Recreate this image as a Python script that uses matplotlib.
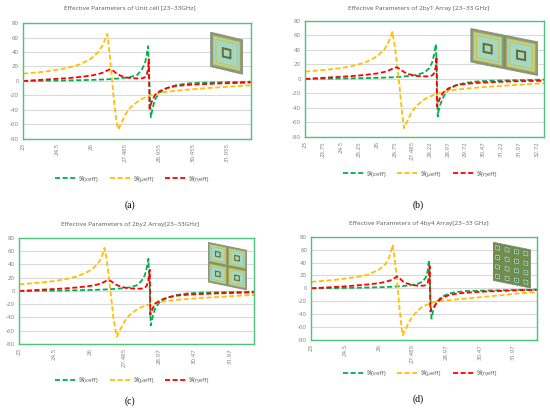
import numpy as np
import matplotlib
matplotlib.use('Agg')
import matplotlib.pyplot as plt
from matplotlib.patches import Rectangle
from matplotlib.transforms import Affine2D

plt.rcParams['font.family'] = ['Open Sans', 'DejaVu Sans']
plt.rcParams['axes.unicode_minus'] = False

# ---------------- data (GHz vs value) ----------------
freq_a = [23.0, 23.5, 24.0, 24.5, 25.0, 25.5, 26.0, 26.3, 26.5, 26.6, 26.7, 26.8, 26.9, 27.0,
          27.1, 27.18, 27.3, 27.5, 27.7, 28.0, 28.2, 28.35, 28.43, 28.49, 28.52, 28.55, 28.58,
          28.61, 28.7, 28.8, 29.0, 29.3, 29.7, 30.2, 30.8, 31.5, 32.2, 33.0]
eps_a = [0, 0.2, 0.4, 0.6, 0.8, 1.1, 1.5, 1.8, 2, 2.2, 2.3, 2.5, 2.7, 3,
         3.2, 3.4, 3.8, 4.5, 5.5, 8, 15, 24, 36, 48, 25, -5, -30,
         -50, -36, -25, -16, -10, -6, -3.5, -2.5, -2, -1.5, -1]
mu_a = [10, 11.5, 13, 15.5, 18.5, 23, 31, 40, 50, 57, 65, 38, 3, -30,
        -56, -67, -59, -46, -37, -29, -25, -23, -22, -21.5, -21, -20.5, -20,
        -20, -19, -18, -16.5, -15, -13.5, -12, -10.5, -9, -7.5, -6]
eta_a = [0, 1, 2, 3, 4, 5.5, 7.5, 9.5, 11.5, 13, 14.5, 16, 15.5, 13,
         10.5, 9, 7, 5, 4, 3.5, 3.5, 5, 8, 17, 30, -38, -36,
         -32, -25, -19, -14, -10, -7, -5.5, -4.5, -3.5, -3, -2]

freq_b = [23.0, 23.5, 24.0, 24.5, 25.0, 25.5, 26.0, 26.3, 26.45, 26.55, 26.65, 26.75, 26.83, 26.95,
          27.05, 27.14, 27.25, 27.45, 27.7, 28.0, 28.2, 28.32, 28.4, 28.47, 28.5, 28.52, 28.55,
          28.58, 28.66, 28.8, 29.0, 29.3, 29.7, 30.2, 30.8, 31.5, 32.2, 33.0]
eps_b = [0, 0.2, 0.4, 0.6, 0.8, 1.1, 1.5, 1.8, 2, 2.1, 2.2, 2.4, 2.6, 2.9,
         3.2, 3.4, 3.8, 4.5, 5.8, 9, 15, 23, 34, 48, 20, 0, -52,
         -45, -35, -24, -15, -9, -5.5, -3.5, -2.5, -2, -1.5, -1]
mu_b = [10, 11.5, 13, 15, 18, 22.5, 31, 40, 48, 56, 65, 45, 25, -10,
        -45, -68, -60, -46, -36, -28, -24.5, -23, -22, -21.5, -21, -21, -20.5,
        -20, -19.5, -18, -16.5, -15, -13.5, -12, -10.5, -9, -7.5, -6]
eta_b = [0, 1, 2, 3, 4, 5.5, 7.5, 9.5, 11, 12.5, 14, 15.5, 16, 14,
         11.5, 9.5, 7.5, 5.5, 4, 3.5, 3.5, 5, 8, 17, 31, -38, -35,
         -32, -25, -18, -13, -9, -7, -5.5, -4.5, -3.5, -3, -2.5]

freq_c = [23.0, 23.5, 24.0, 24.5, 25.0, 25.5, 26.0, 26.3, 26.45, 26.55, 26.63, 26.72, 26.8, 26.9,
          27.0, 27.15, 27.3, 27.5, 27.7, 28.0, 28.2, 28.35, 28.43, 28.5, 28.53, 28.56, 28.58,
          28.6, 28.7, 28.8, 29.0, 29.3, 29.7, 30.2, 30.8, 31.5, 32.2, 33.0]
eps_c = [0, 0.2, 0.4, 0.6, 0.8, 1.1, 1.5, 1.8, 2, 2.1, 2.2, 2.4, 2.6, 2.8,
         3, 3.4, 3.8, 4.5, 5.5, 8.5, 15, 24, 35, 48.5, 25, 0, -30,
         -52, -36, -25, -16, -10, -6, -3.5, -2.5, -2, -1.5, -1]
mu_c = [10, 11.5, 13, 15, 18, 22.5, 30.5, 39, 47, 55, 65, 48, 25, -5,
        -38, -69, -58, -45, -36, -28, -24.5, -22.5, -21.5, -21, -20.5, -20, -20,
        -19.5, -19, -18, -16.5, -15, -13.5, -12, -10.5, -9, -7.5, -6]
eta_c = [0, 1, 2, 3, 4, 5.5, 7.5, 9.5, 11, 12.5, 14, 15.5, 16, 15,
         12.5, 9, 7, 5, 4, 3.5, 3.5, 5, 8, 17, 25, 32, -36,
         -33, -25, -19, -14, -10, -7, -5.5, -4.5, -3.5, -3, -2]

freq_d = [23.0, 23.5, 24.0, 24.5, 25.0, 25.5, 26.0, 26.3, 26.43, 26.52, 26.61, 26.7, 26.8, 26.88,
          26.96, 27.05, 27.2, 27.4, 27.6, 27.8, 27.95, 28.08, 28.16, 28.22, 28.25, 28.28, 28.3,
          28.33, 28.42, 28.55, 28.75, 29.1, 29.5, 30.0, 30.7, 31.5, 32.2, 33.0]
eps_d = [0, 0.2, 0.4, 0.6, 0.9, 1.2, 1.6, 2, 2.2, 2.3, 2.5, 2.7, 2.9, 3.1,
         3.3, 3.5, 4, 4.8, 6, 8, 11, 17, 27, 44, 20, -10, -30,
         -47, -32, -22, -14, -8, -5.5, -4, -3.5, -3, -2.5, -2]
mu_d = [10, 11.5, 13, 15, 17.5, 21, 29, 38, 46, 55, 67.5, 45, 15, -20,
        -48, -73, -62, -48, -39, -32, -28, -26, -25, -24.5, -24, -23.5, -23,
        -22.5, -21.5, -20.5, -19.5, -18.5, -17, -15.5, -13, -10.5, -8, -6]
eta_d = [0, 1, 2, 3, 4.5, 6, 8, 10, 11.5, 12.5, 14, 16, 18.5, 17,
         14, 11, 8, 6, 4.5, 4, 4, 5, 8, 18, 34, -36, -35,
         -32, -30, -23, -16, -10.5, -8, -6.5, -5, -4, -3, -2.5]

ticks_a = ['23', '24.5', '26', '27.485', '28.955', '30.455', '31.955']
ticks_b = ['23', '23.75', '24.5', '25.25', '26', '26.75', '27.485', '28.22', '28.97',
           '29.72', '30.47', '31.22', '31.97', '32.72']
ticks_c = ['23', '24.5', '26', '27.485', '28.97', '30.47', '31.97']
ticks_d = ['23', '24.5', '26', '27.485', '28.97', '30.47', '31.97']

titles = ['Effective Parameters of Unit cell [23~33GHz]',
          'Effective Parameters of 2by1 Array [23~33 GHz]',
          'Effective Parameters of 2by2 Array[23~33GHz]',
          'Effective Parameters of 4by4 Array[23~33 GHz]']
tags = ['(a)', '(b)', '(c)', '(d)']
series_names = ['ℜ(εeff)', 'ℜ(μeff)', 'ℜ(ηeff)']
series_colors = ['#00B050', '#FFC000', '#FF0000']

panels = [(freq_a, eps_a, mu_a, eta_a, ticks_a),
          (freq_b, eps_b, mu_b, eta_b, ticks_b),
          (freq_c, eps_c, mu_c, eta_c, ticks_c),
          (freq_d, eps_d, mu_d, eta_d, ticks_d)]

# layout (figure fractions)
ax_rects = [[0.042, 0.662, 0.414, 0.282],
            [0.555, 0.667, 0.434, 0.282],
            [0.035, 0.163, 0.427, 0.258],
            [0.566, 0.173, 0.410, 0.251]]
title_pos = [(0.236, 0.980), (0.761, 0.980), (0.236, 0.453), (0.761, 0.455)]
legend_pos = [(0.240, 0.565), (0.763, 0.577), (0.240, 0.075), (0.763, 0.092)]
tag_pos = [(0.236, 0.501), (0.760, 0.501), (0.236, 0.024), (0.760, 0.029)]

fig = plt.figure(figsize=(5.5, 4.11), dpi=100)

for k, (fr, e, m, n, tl) in enumerate(panels):
    ax = fig.add_axes(ax_rects[k])
    for vals, name, col in zip([e, m, n], series_names, series_colors):
        ax.plot(fr, vals, color=col, lw=1.3, ls=(0, (2.8, 1.4)), label=name)
    ax.set_xlim(23, 33)
    ax.set_ylim(-80, 80)
    ax.set_yticks(range(-80, 81, 20))
    ax.set_xticks([float(t) for t in tl])
    ax.set_xticklabels(tl, rotation=90)
    ax.tick_params(length=0, labelsize=4.4, colors='#7F7F7F', pad=3)
    ax.grid(axis='y', color='#D9D9D9', lw=0.8)
    ax.set_axisbelow(True)
    for s in ax.spines.values():
        s.set_color('#4CC27E')
        s.set_linewidth(1.0)
    fig.text(title_pos[k][0], title_pos[k][1], titles[k], ha='center', va='center',
             fontsize=4.6, color='#595959')
    ax.legend(loc='center', bbox_to_anchor=legend_pos[k], bbox_transform=fig.transFigure,
              ncol=3, frameon=False, fontsize=4.5, handlelength=3.4, handletextpad=0.4,
              columnspacing=1.8, labelcolor='#595959')
    fig.text(tag_pos[k][0], tag_pos[k][1], tags[k], ha='center', va='center',
             fontsize=7, family=['Liberation Serif', 'DejaVu Serif'])


# small sketches of the unit cell / arrays in the corner of each plot
ring_cell = [(0.96, '#8E9C70'), (0.86, '#D4BE38'), (0.80, '#A3D8C4'), (0.70, '#D4BE38'),
             (0.64, '#A3D8C4'), (0.30, '#6B6A2C'), (0.18, '#A3D8C4')]
dense_cell = [(0.92, '#6F8C42'), (0.50, '#A3D8C8'), (0.30, '#3E5A2C'), (0.14, '#A3D8C8')]


def draw_board(rect, nx, ny, layers, slope=0.2):
    iax = fig.add_axes(rect)
    iax.set_axis_off()
    iax.set_xlim(-0.02, nx + 0.02)
    iax.set_ylim(-slope * nx - 0.02, ny + 0.02)
    tr = Affine2D().skew(0, np.arctan(-slope)) + iax.transData
    iax.add_patch(Rectangle((0, 0), nx, ny, fc='#7D8B63', ec='#8A9490', lw=0.8, transform=tr))
    for i in range(nx):
        for j in range(ny):
            for size, col in layers:
                off = (1 - size) / 2
                iax.add_patch(Rectangle((i + off, j + off), size, size, fc=col, ec='none',
                                        transform=tr))


draw_board([0.382, 0.818, 0.060, 0.105], 1, 1, ring_cell, slope=0.22)
draw_board([0.855, 0.815, 0.124, 0.117], 2, 1, ring_cell)
draw_board([0.378, 0.294, 0.071, 0.117], 2, 2, ring_cell)
draw_board([0.896, 0.299, 0.069, 0.112], 4, 4, dense_cell)

fig.savefig('out.png', dpi=100)
